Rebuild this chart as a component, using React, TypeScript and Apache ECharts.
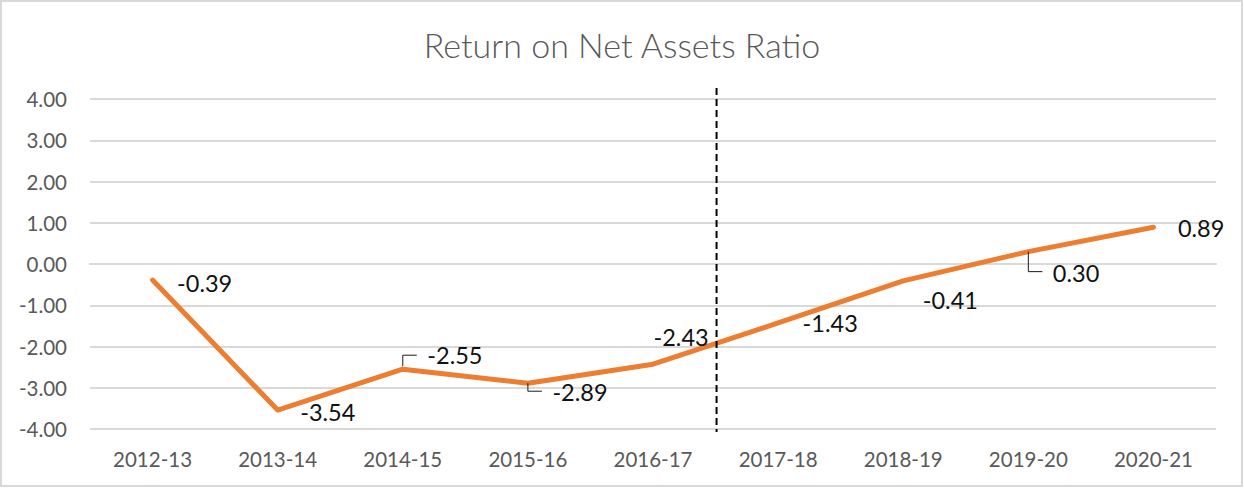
import React, { useEffect, useRef } from "react";
import * as echarts from "echarts";

const categories = ["2012-13", "2013-14", "2014-15", "2015-16", "2016-17", "2017-18", "2018-19", "2019-20", "2020-21"];
const ratioValues = [-0.39, -3.54, -2.55, -2.89, -2.43, -1.43, -0.41, 0.3, 0.89];
const titleText = "Return on Net Assets Ratio";
// label offsets relative to each point (style only)
const labelOffsets: [number, number][] = [[24, 3], [22, 2], [24, -14], [24, 9], [0, -27], [24, 0], [19, 19], [24, 21], [24, 1]];
const leaderIdx = [2, 3, 7];

const FONT = "Lato, 'Open Sans', sans-serif";

export default function App() {
  const ref = useRef<HTMLDivElement>(null);
  useEffect(() => {
    document.body.style.margin = "0";
    if (!ref.current) return;
    const chart = echarts.init(ref.current, null, { renderer: "svg" });
    chart.setOption({
      animation: false,
      backgroundColor: "#ffffff",
      title: {
        text: titleText,
        left: "center",
        top: 22,
        textStyle: { fontFamily: FONT, fontWeight: 300, fontSize: 34, color: "#595959" },
      },
      grid: { left: 90, right: 28, top: 99, bottom: 59 },
      xAxis: {
        type: "category",
        data: categories,
        boundaryGap: true,
        axisLine: { show: true, lineStyle: { color: "#d9d9d9", width: 2 } },
        axisTick: { show: false },
        axisLabel: { fontFamily: FONT, fontSize: 20.5, color: "#595959", margin: 19 },
      },
      yAxis: {
        type: "value",
        min: -4,
        max: 4,
        interval: 1,
        axisLine: { show: false },
        axisTick: { show: false },
        splitLine: { lineStyle: { color: "#d9d9d9", width: 2 } },
        axisLabel: {
          fontFamily: FONT,
          fontSize: 20.5,
          color: "#595959",
          margin: 23,
          formatter: (v: number) => v.toFixed(2),
        },
      },
      series: [
        {
          type: "line",
          data: ratioValues.map((v, i) => ({
            value: v,
            label: { offset: labelOffsets[i] },
          })),
          symbol: "circle",
          symbolSize: 1,
          showSymbol: true,
          itemStyle: { color: "rgba(0,0,0,0)" },
          lineStyle: { color: "#ED7D31", width: 5, cap: "round", join: "round" },
          label: {
            show: true,
            position: "right",
            distance: 0,
            fontFamily: FONT,
            fontSize: 23.5,
            color: "#111111",
            formatter: (p: any) => Number(p.value).toFixed(2),
          },
        },
      ],
    });

    const graphics: any[] = [
      {
        type: "rect",
        shape: { x: 1, y: 1, width: 1241, height: 485 },
        style: { fill: "none", stroke: "#d9d9d9", lineWidth: 2 },
        silent: true,
      },
    ];
    const p4 = chart.convertToPixel({ gridIndex: 0 }, [4, 0]) as number[];
    const p5 = chart.convertToPixel({ gridIndex: 0 }, [5, 0]) as number[];
    const yTop = (chart.convertToPixel({ gridIndex: 0 }, [0, 4]) as number[])[1];
    const yBot = (chart.convertToPixel({ gridIndex: 0 }, [0, -4]) as number[])[1];
    const xd = (p4[0] + p5[0]) / 2 + 1;
    graphics.push({
      type: "line",
      shape: { x1: xd, y1: yTop - 11, x2: xd, y2: yBot + 3 },
      style: { stroke: "#000000", lineWidth: 2, lineDash: [7, 4] },
      silent: true,
      z: 10,
    });
    leaderIdx.forEach((i) => {
      const p = chart.convertToPixel({ gridIndex: 0 }, [i, ratioValues[i]]) as number[];
      const off = labelOffsets[i];
      const ly = p[1] + off[1] + (off[1] < 0 ? 0 : -1);
      const y0 = p[1] + (off[1] < 0 ? -3 : 0);
      graphics.push({
        type: "polyline",
        shape: { points: [[p[0], y0], [p[0], ly], [p[0] + 14, ly]] },
        style: { stroke: "#1a1a1a", lineWidth: 1, fill: "none" },
        silent: true,
        z: 10,
      });
    });
    chart.setOption({ graphic: graphics });
    return () => chart.dispose();
  }, []);
  return <div ref={ref} style={{ width: 1244, height: 488 }} />;
}
